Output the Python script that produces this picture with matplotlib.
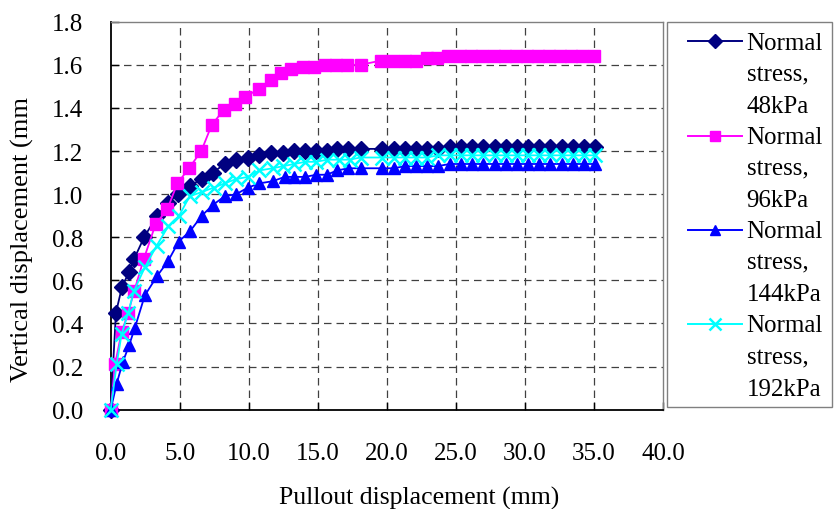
import matplotlib
matplotlib.use("Agg")
import matplotlib.pyplot as plt
from matplotlib.lines import Line2D
from matplotlib.patches import Rectangle

plt.rcParams['font.family'] = ['Liberation Serif', 'DejaVu Serif']

# pullout displacement (mm) / vertical displacement (mm)
x_48 = [0.0, 0.38, 0.82, 1.34, 1.70, 2.42, 3.36, 4.16, 4.88, 5.72, 6.64, 7.40, 8.25, 9.09, 9.93,
        10.77, 11.60, 12.45, 13.30, 14.05, 14.90, 15.70, 16.40, 17.20, 18.10, 19.65, 20.50, 21.30,
        22.10, 22.90, 23.70, 24.55, 25.35, 26.15, 26.95, 27.80, 28.60, 29.40, 30.25, 31.05, 31.85,
        32.65, 33.45, 34.30, 35.10]
y_48 = [0.00, 0.45, 0.57, 0.64, 0.70, 0.80, 0.90, 0.96, 1.00, 1.04, 1.07, 1.10, 1.14, 1.16, 1.17,
        1.18, 1.19, 1.19, 1.20, 1.20, 1.20, 1.20, 1.21, 1.21, 1.21, 1.21, 1.21, 1.21,
        1.21, 1.21, 1.21, 1.22, 1.22, 1.22, 1.22, 1.22, 1.22, 1.22, 1.22, 1.22, 1.22,
        1.22, 1.22, 1.22, 1.22]

x_96 = [0.0, 0.31, 0.79, 1.27, 1.70, 2.40, 3.25, 4.10, 4.83, 5.67, 6.56, 7.31, 8.17, 9.02, 9.74,
        10.75, 11.59, 12.36, 13.08, 13.90, 14.74, 15.55, 16.35, 17.15, 18.10, 19.60, 20.45, 21.30,
        22.10, 22.90, 23.65, 24.45, 25.30, 26.10, 26.90, 27.75, 28.55, 29.35, 30.15, 30.95, 31.75,
        32.55, 33.35, 34.15, 35.00]
y_96 = [0.00, 0.21, 0.36, 0.45, 0.55, 0.70, 0.86, 0.93, 1.05, 1.12, 1.20, 1.32, 1.39, 1.42, 1.45,
        1.49, 1.53, 1.56, 1.58, 1.59, 1.59, 1.60, 1.60, 1.60, 1.60, 1.62, 1.62, 1.62,
        1.62, 1.63, 1.63, 1.64, 1.64, 1.64, 1.64, 1.64, 1.64, 1.64, 1.64, 1.64, 1.64,
        1.64, 1.64, 1.64, 1.64]

x_144 = [0.0, 0.43, 0.87, 1.34, 1.75, 2.47, 3.36, 4.16, 4.93, 5.77, 6.60, 7.40, 8.25, 9.09, 9.93,
         10.77, 11.73, 12.60, 13.30, 14.05, 14.90, 15.65, 16.40, 17.20, 18.10, 19.65, 20.50, 21.30,
         22.10, 22.90, 23.70, 24.55, 25.35, 26.15, 26.95, 27.80, 28.60, 29.40, 30.25, 31.05, 31.85,
         32.65, 33.45, 34.30, 35.10]
y_144 = [0.00, 0.12, 0.22, 0.30, 0.38, 0.53, 0.62, 0.69, 0.78, 0.83, 0.90, 0.95, 0.99, 1.00, 1.03,
         1.05, 1.06, 1.08, 1.08, 1.08, 1.09, 1.09, 1.11, 1.12, 1.12, 1.12, 1.12, 1.13,
         1.13, 1.13, 1.13, 1.14, 1.14, 1.14, 1.14, 1.14, 1.14, 1.14, 1.14, 1.14, 1.14,
         1.14, 1.14, 1.14, 1.14]

x_192 = [0.0, 0.43, 0.79, 1.27, 1.68, 2.47, 3.32, 4.16, 4.95, 5.72, 6.60, 7.45, 8.25, 9.09, 9.93,
         10.77, 11.73, 12.50, 13.30, 14.10, 14.86, 15.70, 16.50, 17.30, 18.10, 19.65, 20.50, 21.30,
         22.10, 22.90, 23.70, 24.55, 25.35, 26.15, 26.95, 27.80, 28.60, 29.40, 30.25, 31.05, 31.85,
         32.65, 33.45, 34.30, 35.10]
y_192 = [0.00, 0.21, 0.35, 0.45, 0.55, 0.66, 0.76, 0.85, 0.90, 0.99, 1.01, 1.03, 1.05, 1.07, 1.08,
         1.11, 1.12, 1.13, 1.14, 1.15, 1.15, 1.16, 1.16, 1.16, 1.17, 1.17, 1.17, 1.17,
         1.17, 1.17, 1.18, 1.18, 1.18, 1.18, 1.18, 1.18, 1.18, 1.18, 1.18, 1.18, 1.18,
         1.18, 1.18, 1.18, 1.18]

legend_text = [["Normal", "stress,", "48kPa"],
               ["Normal", "stress,", "96kPa"],
               ["Normal", "stress,", "144kPa"],
               ["Normal", "stress,", "192kPa"]]

x_ticks = [0, 5, 10, 15, 20, 25, 30, 35, 40]
y_ticks = [0.0, 0.2, 0.4, 0.6, 0.8, 1.0, 1.2, 1.4, 1.6, 1.8]

series = [(x_48, y_48), (x_96, y_96), (x_144, y_144), (x_192, y_192)]
styles = [dict(color='#000080', marker='D', ms=8.5),
          dict(color='#FF00FF', marker='s', ms=8.5),
          dict(color='#0000FF', marker='^', ms=9),
          dict(color='#00FFFF', marker='x', ms=9.5, mew=1.8)]

W, H = 834, 510
FS = 18
fig = plt.figure(figsize=(W / 100, H / 100), dpi=100)
px = lambda x, y: (x / W, 1 - y / H)

ax = fig.add_axes([110.7 / W, 1 - 410.7 / H, (663 - 110.7) / W, (410.7 - 22.7) / H])

for (xs, ys), st in zip(series, styles):
    ax.plot(xs, ys, lw=1.3, clip_on=False, zorder=3, **st)

ax.set_xlim(0, 40)
ax.set_ylim(0, 1.8)
ax.set_xticks(x_ticks)
ax.set_xticklabels(["%.1f" % v for v in x_ticks])
ax.set_yticks(y_ticks)
ax.set_yticklabels(["%.1f" % v for v in y_ticks])
ax.tick_params(axis='x', direction='in', length=6, width=1, labelsize=FS, pad=23)
ax.tick_params(axis='y', direction='in', length=6, width=1, labelsize=FS, pad=20)

ax.grid(True, linestyle=(0, (6, 4)), color='#404040', lw=0.9)
for gl in [ax.get_xgridlines()[0], ax.get_xgridlines()[-1],
           ax.get_ygridlines()[0], ax.get_ygridlines()[-1]]:
    gl.set_visible(False)

for side in ['left', 'bottom']:
    ax.spines[side].set_color('black')
    ax.spines[side].set_linewidth(1.3)
for side in ['top', 'right']:
    ax.spines[side].set_color('#808080')
    ax.spines[side].set_linewidth(1.0)

fig.text(*px(22, 240), "Vertical displacement (mm", rotation=90, ha='center', va='center', fontsize=19)
fig.text(*px(419, 498), "Pullout displacement (mm)", ha='center', va='center', fontsize=18.5)

# legend drawn by hand so the handle sits on the first line of each label
fig.add_artist(Rectangle(px(666.7, 407.7), (832 - 666.7) / W, (407.7 - 22.7) / H,
                         transform=fig.transFigure, fill=False, edgecolor='#808080', lw=1.0))
for i, (lines, st) in enumerate(zip(legend_text, styles)):
    hy = 42.3 + 94.3 * i
    fig.add_artist(Line2D([688 / W, 742 / W], [1 - hy / H] * 2, transform=fig.transFigure,
                          color=st['color'], lw=1.4))
    fig.add_artist(Line2D([715 / W], [1 - hy / H], transform=fig.transFigure, linestyle='none',
                          color=st['color'], marker=st['marker'], ms=st['ms'] * 0.85,
                          mew=st.get('mew', 1.0)))
    for j, t in enumerate(lines):
        fig.text(*px(746.5, 49.5 + 94.3 * i + 31.6 * j), t, ha='left', va='baseline', fontsize=FS)

fig.savefig("out.png", dpi=100)
